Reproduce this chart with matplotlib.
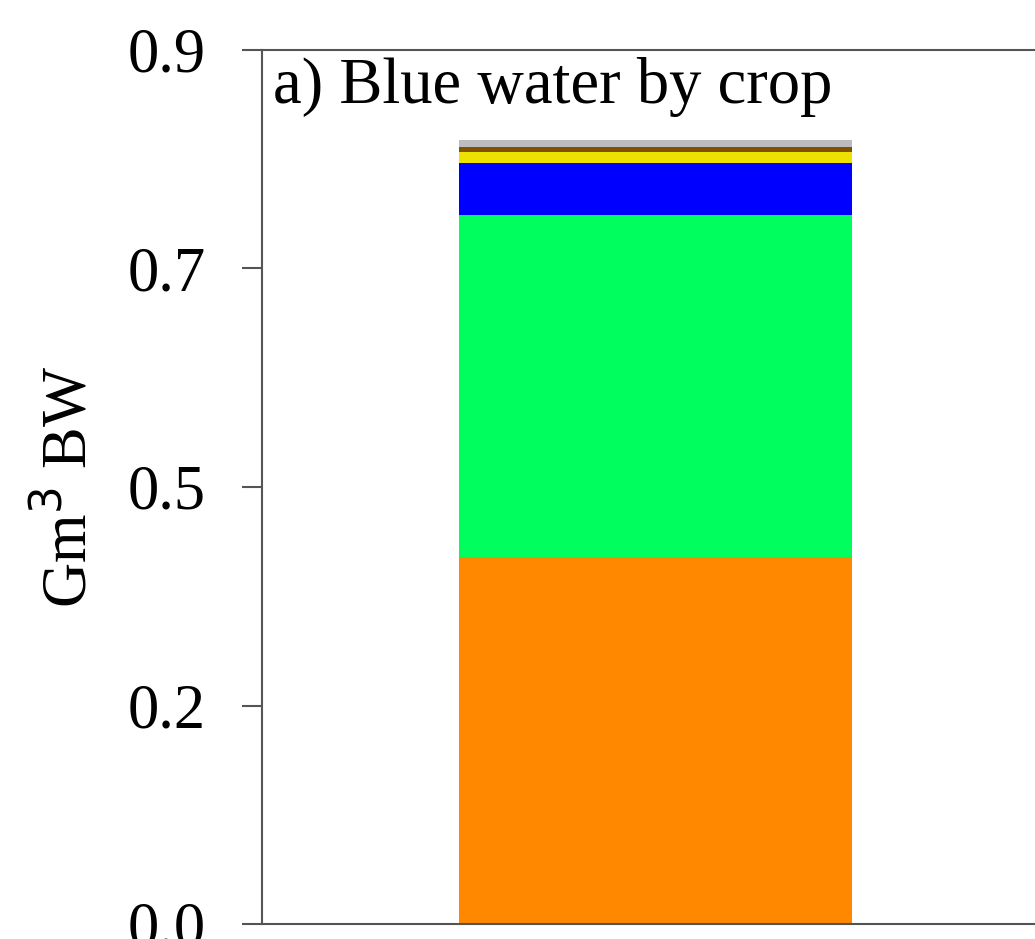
import matplotlib
matplotlib.use("Agg")
import matplotlib.pyplot as plt
import numpy as np

# stacked blue water use by crop (Gm3), bottom to top
crops = ["crop1", "crop2", "crop3", "crop4", "crop5", "crop6"]
values = [0.378, 0.352, 0.054, 0.011, 0.005, 0.007]
colors = ["#FF8800", "#00FF5E", "#0000FF", "#EEE000", "#7F5200", "#BDBDBD"]

yticks = [0.0, 0.225, 0.45, 0.675, 0.9]
ytick_labels = ["0.0", "0.2", "0.5", "0.7", "0.9"]

plt.rcParams["font.family"] = ["Liberation Serif", "DejaVu Serif"]

fig = plt.figure(figsize=(10.35, 9.39), dpi=100)
ax = fig.add_axes([262 / 1035, 1 - 924 / 939, 787 / 1035, 874 / 939])

bottom = 0.0
for name, v, c in zip(crops, values, colors):
    ax.bar(0, v, width=1.0, bottom=bottom, color=c, linewidth=0, label=name)
    bottom += v

ax.set_xlim(-1, 1)
ax.set_ylim(0, 0.9)
ax.set_xticks([])
ax.set_yticks(yticks)
ax.set_yticklabels(ytick_labels)
ax.tick_params(axis="y", direction="out", length=14.5, width=1.5, color="#555555",
               labelsize=45, pad=26)
for s in ax.spines.values():
    s.set_color("#555555")
    s.set_linewidth(1.5)

ax.set_ylabel("Gm$^3$ BW", fontsize=45, labelpad=20)
ax.text(0.014, 0.992, "a) Blue water by crop", transform=ax.transAxes,
        ha="left", va="top", fontsize=46.5)

fig.savefig("out.png", dpi=100)
